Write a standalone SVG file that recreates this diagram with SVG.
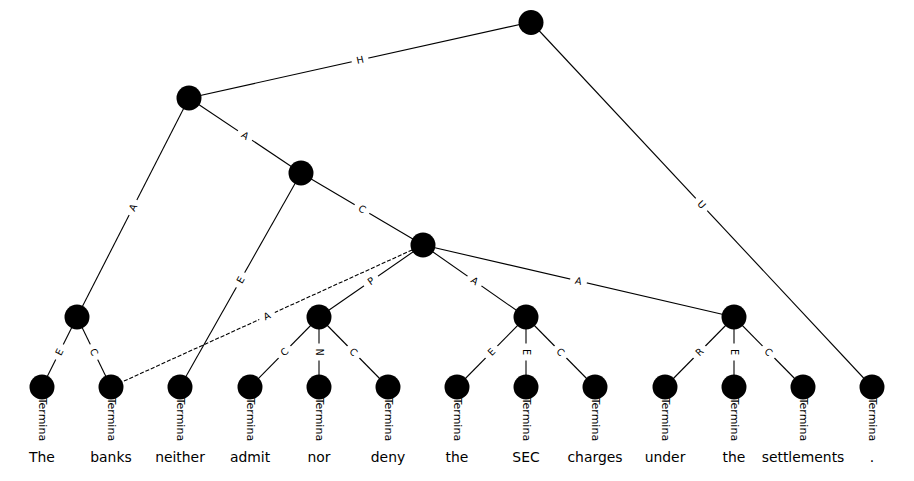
<svg xmlns="http://www.w3.org/2000/svg" width="914" height="481" viewBox="0 0 914 481">
  <style>
    .edge { stroke: #000; stroke-width: 1.1; fill: none; }
    .dashed { stroke-dasharray: 4.1 1.8; }
    .lbl-box { fill: #fff; stroke: none; }
    .lbl { font-family: "DejaVu Sans", sans-serif; font-size: 9.7px; fill: #000; text-anchor: middle; }
    .term { font-family: "DejaVu Sans", sans-serif; font-size: 11px; fill: #000; }
    .node { fill: #000; }
    .word { font-family: "DejaVu Sans", sans-serif; font-size: 13.9px; fill: #000; text-anchor: middle; }
  </style>
  <defs>
    <g id="tag-box"><rect class="lbl-box" x="-8.5" y="-7" width="17" height="14" rx="2"/></g>
  </defs>
  <rect width="914" height="481" fill="#fff"/>

  <!-- tree edges -->
  <g id="connectors">
    <line class="edge" x1="531" y1="22" x2="189" y2="98"/>
    <line class="edge" x1="531" y1="22" x2="872" y2="387"/>
    <line class="edge" x1="189" y1="98" x2="301" y2="173"/>
    <line class="edge" x1="189" y1="98" x2="77" y2="317"/>
    <line class="edge" x1="301" y1="173" x2="423" y2="245"/>
    <line class="edge" x1="301" y1="173" x2="180" y2="387"/>
    <line class="edge" x1="423" y1="245" x2="319" y2="317"/>
    <line class="edge" x1="423" y1="245" x2="526" y2="317"/>
    <line class="edge" x1="423" y1="245" x2="734" y2="317"/>
    <line class="edge dashed" x1="423" y1="245" x2="111" y2="387"/>
    <line class="edge" x1="77" y1="317" x2="42" y2="387"/>
    <line class="edge" x1="77" y1="317" x2="111" y2="387"/>
    <line class="edge" x1="319" y1="317" x2="250" y2="387"/>
    <line class="edge" x1="319" y1="317" x2="319" y2="387"/>
    <line class="edge" x1="319" y1="317" x2="388" y2="387"/>
    <line class="edge" x1="526" y1="317" x2="457" y2="387"/>
    <line class="edge" x1="526" y1="317" x2="526" y2="387"/>
    <line class="edge" x1="526" y1="317" x2="595" y2="387"/>
    <line class="edge" x1="734" y1="317" x2="665" y2="387"/>
    <line class="edge" x1="734" y1="317" x2="734" y2="387"/>
    <line class="edge" x1="734" y1="317" x2="803" y2="387"/>
  </g>

  <!-- edge tags, rotated along each edge -->
  <g id="edge-labels">
    <g transform="translate(360,60) rotate(-12.53)"><use href="#tag-box"/><text class="lbl" y="3.3">H</text></g>
    <g transform="translate(701.5,204.5) rotate(46.95)"><use href="#tag-box"/><text class="lbl" y="3.3">U</text></g>
    <g transform="translate(245,135.5) rotate(33.81)"><use href="#tag-box"/><text class="lbl" y="3.3">A</text></g>
    <g transform="translate(133,207.5) rotate(-62.92)"><use href="#tag-box"/><text class="lbl" y="3.3">A</text></g>
    <g transform="translate(362,209) rotate(30.55)"><use href="#tag-box"/><text class="lbl" y="3.3">C</text></g>
    <g transform="translate(240.5,280) rotate(-60.52)"><use href="#tag-box"/><text class="lbl" y="3.3">E</text></g>
    <g transform="translate(371,281) rotate(-34.7)"><use href="#tag-box"/><text class="lbl" y="3.3">P</text></g>
    <g transform="translate(474.5,281) rotate(34.96)"><use href="#tag-box"/><text class="lbl" y="3.3">A</text></g>
    <g transform="translate(578.5,281) rotate(13.03)"><use href="#tag-box"/><text class="lbl" y="3.3">A</text></g>
    <g transform="translate(267,316) rotate(-24.47)"><use href="#tag-box"/><text class="lbl" y="3.3">A</text></g>
    <g transform="translate(59.5,352) rotate(-63.43)"><use href="#tag-box"/><text class="lbl" y="3.3">E</text></g>
    <g transform="translate(94,352) rotate(64.09)"><use href="#tag-box"/><text class="lbl" y="3.3">C</text></g>
    <g transform="translate(284.5,352) rotate(-45.41)"><use href="#tag-box"/><text class="lbl" y="3.3">C</text></g>
    <g transform="translate(319,352) rotate(90)"><use href="#tag-box"/><text class="lbl" y="3.3">N</text></g>
    <g transform="translate(353.5,352) rotate(45.41)"><use href="#tag-box"/><text class="lbl" y="3.3">C</text></g>
    <g transform="translate(491.5,352) rotate(-45.41)"><use href="#tag-box"/><text class="lbl" y="3.3">E</text></g>
    <g transform="translate(526,352) rotate(90)"><use href="#tag-box"/><text class="lbl" y="3.3">E</text></g>
    <g transform="translate(560.5,352) rotate(45.41)"><use href="#tag-box"/><text class="lbl" y="3.3">C</text></g>
    <g transform="translate(699.5,352) rotate(-45.41)"><use href="#tag-box"/><text class="lbl" y="3.3">R</text></g>
    <g transform="translate(734,352) rotate(90)"><use href="#tag-box"/><text class="lbl" y="3.3">E</text></g>
    <g transform="translate(768.5,352) rotate(45.41)"><use href="#tag-box"/><text class="lbl" y="3.3">C</text></g>
  </g>

  <!-- terminal tags under each leaf -->
  <g id="terminal-labels">
    <text class="term" transform="translate(42,422) rotate(90)" x="-24.3" y="3.5">Termina</text>
    <text class="term" transform="translate(111,422) rotate(90)" x="-24.3" y="3.5">Termina</text>
    <text class="term" transform="translate(180,422) rotate(90)" x="-24.3" y="3.5">Termina</text>
    <text class="term" transform="translate(250,422) rotate(90)" x="-24.3" y="3.5">Termina</text>
    <text class="term" transform="translate(319,422) rotate(90)" x="-24.3" y="3.5">Termina</text>
    <text class="term" transform="translate(388,422) rotate(90)" x="-24.3" y="3.5">Termina</text>
    <text class="term" transform="translate(457,422) rotate(90)" x="-24.3" y="3.5">Termina</text>
    <text class="term" transform="translate(526,422) rotate(90)" x="-24.3" y="3.5">Termina</text>
    <text class="term" transform="translate(595,422) rotate(90)" x="-24.3" y="3.5">Termina</text>
    <text class="term" transform="translate(665,422) rotate(90)" x="-24.3" y="3.5">Termina</text>
    <text class="term" transform="translate(734,422) rotate(90)" x="-24.3" y="3.5">Termina</text>
    <text class="term" transform="translate(803,422) rotate(90)" x="-24.3" y="3.5">Termina</text>
    <text class="term" transform="translate(872,422) rotate(90)" x="-24.3" y="3.5">Termina</text>
  </g>

  <!-- internal nodes -->
  <g id="n-root"><circle class="node" cx="531" cy="22.5" r="12.5"/></g>
  <g id="n-1"><circle class="node" cx="189" cy="98" r="12.5"/></g>
  <g id="n-2"><circle class="node" cx="301" cy="173" r="12.5"/></g>
  <g id="n-3"><circle class="node" cx="423" cy="245" r="12.5"/></g>
  <g id="n-4a"><circle class="node" cx="77" cy="317" r="12.5"/></g>
  <g id="n-4b"><circle class="node" cx="319" cy="317" r="12.5"/></g>
  <g id="n-4c"><circle class="node" cx="526" cy="317" r="12.5"/></g>
  <g id="n-4d"><circle class="node" cx="734" cy="317" r="12.5"/></g>

  <!-- leaf nodes with their tokens -->
  <g id="leaf-the-1"><circle class="node" cx="42" cy="387" r="12.5"/><text class="word" x="42" y="462">The</text></g>
  <g id="leaf-banks"><circle class="node" cx="111" cy="387" r="12.5"/><text class="word" x="111" y="462">banks</text></g>
  <g id="leaf-neither"><circle class="node" cx="180" cy="387" r="12.5"/><text class="word" x="180" y="462">neither</text></g>
  <g id="leaf-admit"><circle class="node" cx="250" cy="387" r="12.5"/><text class="word" x="250" y="462">admit</text></g>
  <g id="leaf-nor"><circle class="node" cx="319" cy="387" r="12.5"/><text class="word" x="319" y="462">nor</text></g>
  <g id="leaf-deny"><circle class="node" cx="388" cy="387" r="12.5"/><text class="word" x="388" y="462">deny</text></g>
  <g id="leaf-the-2"><circle class="node" cx="457" cy="387" r="12.5"/><text class="word" x="457" y="462">the</text></g>
  <g id="leaf-sec"><circle class="node" cx="526" cy="387" r="12.5"/><text class="word" x="526" y="462">SEC</text></g>
  <g id="leaf-charges"><circle class="node" cx="595" cy="387" r="12.5"/><text class="word" x="595" y="462">charges</text></g>
  <g id="leaf-under"><circle class="node" cx="665" cy="387" r="12.5"/><text class="word" x="665" y="462">under</text></g>
  <g id="leaf-the-3"><circle class="node" cx="734" cy="387" r="12.5"/><text class="word" x="734" y="462">the</text></g>
  <g id="leaf-settlements"><circle class="node" cx="803" cy="387" r="12.5"/><text class="word" x="803" y="462">settlements</text></g>
  <g id="leaf-period"><circle class="node" cx="872" cy="387" r="12.5"/><text class="word" x="872" y="462">.</text></g>
</svg>
